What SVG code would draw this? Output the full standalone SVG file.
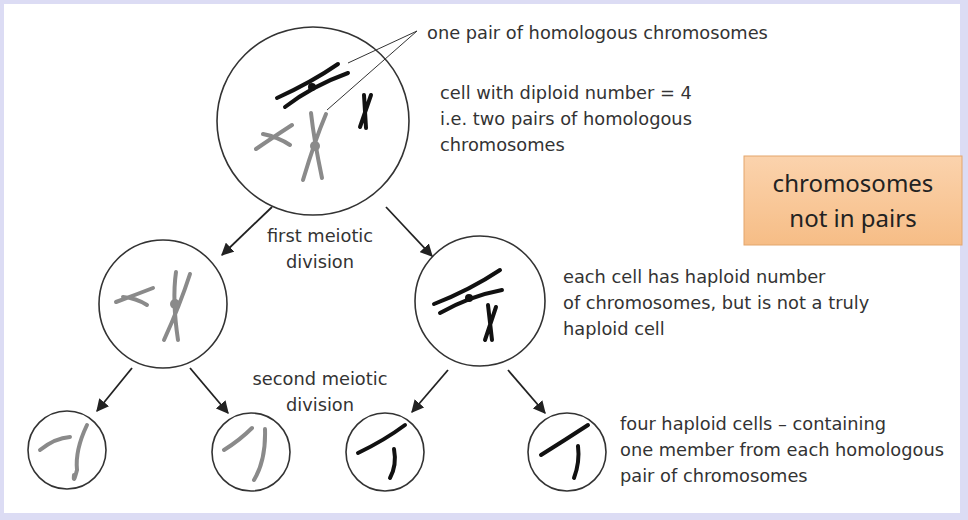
<svg xmlns="http://www.w3.org/2000/svg" width="968" height="520" viewBox="0 0 968 520">
<defs>
<marker id="ah" viewBox="0 0 10 10" refX="9" refY="5" markerWidth="7" markerHeight="7" orient="auto"><path d="M0,0 L10,5 L0,10 z" fill="#222"/></marker>
<linearGradient id="og" x1="0" y1="0" x2="0" y2="1"><stop offset="0" stop-color="#fbd3ad"/><stop offset="1" stop-color="#f6bd86"/></linearGradient>
</defs>
<style>
.cell{fill:none;stroke:#333;stroke-width:1.6}
.t{font-family:"DejaVu Sans","Liberation Sans",sans-serif;font-size:17.8px;fill:#333}
.bk{fill:none;stroke:#111;stroke-width:4;stroke-linecap:round}
.gr{fill:none;stroke:#8a8a8a;stroke-width:4;stroke-linecap:round}
.con line{stroke:#222;stroke-width:1.8;marker-end:url(#ah)}
</style>
<rect width="968" height="520" fill="#dcdcf4"/>
<rect x="4" y="4" width="956" height="509" fill="#fff"/>
<g id="cell-parent">
<ellipse class="cell" cx="313" cy="121" rx="96" ry="94"/>
<path class="bk" d="M277,98 Q312,82 338,64 M285,107 Q312,86 348,73"/><circle cx="312" cy="87" r="4" fill="#111"/>
<path class="bk" d="M364,95 L366,128 M371,95 L360,127"/>
<path class="gr" d="M256,149 Q272,138 292,125 M263,134 Q278,137 290,145"/>
<path class="gr" d="M311,113 Q314,140 322,178 M326,114 Q315,140 303,180"/><circle cx="315" cy="146" r="5" fill="#8a8a8a"/>
<line x1="348" y1="63" x2="417" y2="31" stroke="#333" stroke-width="1"/>
<line x1="327" y1="110" x2="417" y2="31" stroke="#333" stroke-width="1"/>
</g>
<g id="cell-m1"><circle class="cell" cx="163" cy="304" r="64"/>
<path class="gr" d="M116,302 Q135,295 153,288 M123,297 Q136,298 147,305"/>
<path class="gr" d="M176,272 Q172,300 178,340 M190,274 Q180,305 164,340"/><circle cx="175" cy="304" r="5" fill="#8a8a8a"/></g>
<g id="cell-m2"><circle class="cell" cx="480" cy="301" r="65"/>
<path class="bk" d="M434,304 Q470,290 500,270 M440,313 Q470,296 502,290"/><circle cx="469" cy="298" r="4" fill="#111"/>
<path class="bk" d="M488,305 L492,340 M496,307 L485,340"/></g>
<g id="cell-b1"><circle class="cell" cx="67" cy="450" r="39"/><path class="gr" d="M40,450 Q55,438 70,437 M87,425 Q75,450 77,470 Q73,485 74,475"/></g>
<g id="cell-b2"><circle class="cell" cx="251" cy="452" r="39"/><path class="gr" d="M224,450 Q240,440 252,428 M265,429 Q266,460 254,480"/></g>
<g id="cell-b3"><circle class="cell" cx="385" cy="452" r="39"/><path class="bk" d="M358,453 Q385,440 405,425 M394,449 Q397,465 390,478" stroke-width="3"/></g>
<g id="cell-b4"><circle class="cell" cx="567" cy="452" r="39"/><path class="bk" d="M541,455 Q565,440 588,425 M578,446 Q580,462 574,478" stroke-width="3"/></g>
<g class="con" id="connectors">
<line x1="272" y1="207" x2="222" y2="255"/>
<line x1="386" y1="207" x2="432" y2="256"/>
<line x1="132" y1="368" x2="97" y2="411"/>
<line x1="190" y1="368" x2="228" y2="413"/>
<line x1="448" y1="370" x2="412" y2="412"/>
<line x1="508" y1="370" x2="545" y2="413"/>
</g>
<g id="labels">
<text class="t" x="427" y="39">one pair of homologous chromosomes</text>
<text class="t" x="440" y="99">cell with diploid number = 4</text>
<text class="t" x="440" y="125">i.e. two pairs of homologous</text>
<text class="t" x="440" y="151">chromosomes</text>
<text class="t" x="320" y="242" text-anchor="middle">first meiotic</text>
<text class="t" x="320" y="268" text-anchor="middle">division</text>
<text class="t" x="563" y="283">each cell has haploid number</text>
<text class="t" x="563" y="309">of chromosomes, but is not a truly</text>
<text class="t" x="563" y="335">haploid cell</text>
<text class="t" x="320" y="385" text-anchor="middle">second meiotic</text>
<text class="t" x="320" y="411" text-anchor="middle">division</text>
<text class="t" x="620" y="430">four haploid cells – containing</text>
<text class="t" x="620" y="456">one member from each homologous</text>
<text class="t" x="620" y="482">pair of chromosomes</text>
</g>
<g id="note">
<rect x="744" y="156" width="218" height="89" fill="url(#og)" stroke="#e3a66c" stroke-width="1"/>
<text x="853" y="192" text-anchor="middle" font-family="'Noto Sans','Open Sans',sans-serif" font-size="24" fill="#222">chromosomes</text>
<text x="853" y="227" text-anchor="middle" font-family="'Noto Sans','Open Sans',sans-serif" font-size="24" fill="#222">not in pairs</text>
</g>
</svg>
